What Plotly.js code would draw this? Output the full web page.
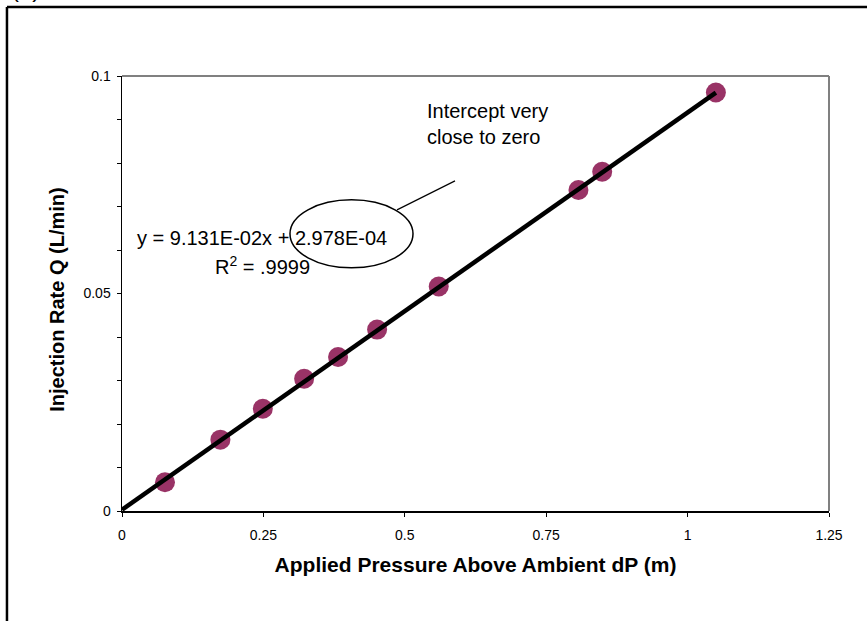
<!DOCTYPE html>
<html>
<head>
<meta charset="utf-8">
<script src="https://cdn.plot.ly/plotly-3.0.1.min.js"></script>
<style>
  html, body { margin: 0; padding: 0; background: #fff; }
  #chart { width: 867px; height: 621px; }
</style>
</head>
<body>
<div id="chart"></div>
<script>
// Measured data: applied pressure dP (m) vs injection rate Q (L/min)
const pressure = [0.076, 0.174, 0.249, 0.322, 0.382, 0.451, 0.560, 0.807, 0.849, 1.050];
const injectionRate = [0.0066, 0.0164, 0.0235, 0.0304, 0.0354, 0.0417, 0.0516, 0.0738, 0.0780, 0.0962];

// Linear trendline coefficients (from the chart's equation)
const slope = 9.131E-02;
const intercept = 2.978E-04;

// Tick labels
const xTickVals = [0, 0.25, 0.5, 0.75, 1, 1.25];
const xTickText = ['0', '0.25', '0.5', '0.75', '1', '1.25'];
const yTickVals = [0, 0.01, 0.02, 0.03, 0.04, 0.05, 0.06, 0.07, 0.08, 0.09, 0.1];
const yTickText = ['0', '', '', '', '', '0.05', '', '', '', '', '0.1'];

const trendX = [0, Math.max(...pressure)];
const trendY = trendX.map(x => slope * x + intercept);

const FONT = 'Liberation Sans, Arial, sans-serif';

const traces = [
  {
    x: pressure, y: injectionRate, type: 'scatter', mode: 'markers',
    marker: { color: '#993366', size: 20 },
    hoverinfo: 'x+y', showlegend: false
  },
  {
    x: trendX, y: trendY, type: 'scatter', mode: 'lines',
    line: { color: '#000000', width: 4.5 },
    hoverinfo: 'skip', showlegend: false
  }
];

const layout = {
  width: 867, height: 621,
  margin: { l: 122, r: 38, t: 76, b: 109.5, pad: 0 },
  paper_bgcolor: '#ffffff', plot_bgcolor: '#ffffff',
  font: { family: FONT, color: '#000000', size: 14 },
  showlegend: false,
  xaxis: {
    range: [0, 1.25], tickvals: xTickVals, ticktext: xTickText,
    ticks: 'outside', ticklen: 4, tickwidth: 1, tickcolor: '#000',
    ticklabelstandoff: 7,
    showline: true, linecolor: '#000', linewidth: 1.5,
    showgrid: false, zeroline: false,
    tickfont: { family: FONT, size: 14, color: '#000' },
    title: { text: '<b>Applied Pressure Above Ambient dP (m)</b>', font: { family: FONT, size: 21, color: '#000' }, standoff: 15 }
  },
  yaxis: {
    range: [0, 0.1], tickvals: yTickVals, ticktext: yTickText,
    ticks: 'outside', ticklen: 4, tickwidth: 1, tickcolor: '#000',
    ticklabelstandoff: 3,
    showline: true, linecolor: '#000', linewidth: 1.5,
    showgrid: false, zeroline: false,
    tickfont: { family: FONT, size: 14, color: '#000' },
    title: { text: '' }
  },
  xaxis2: {
    overlaying: 'x', anchor: 'y', range: [0, 1.25], tickvals: xTickVals,
    ticks: 'inside', ticklen: 3, tickwidth: 1, tickcolor: '#000',
    showticklabels: false, showline: false, showgrid: false, zeroline: false
  },
  yaxis2: {
    overlaying: 'y', anchor: 'x', range: [0, 0.1], tickvals: yTickVals,
    ticks: 'inside', ticklen: 3, tickwidth: 1, tickcolor: '#000',
    showticklabels: false, showline: false, showgrid: false, zeroline: false
  },
  shapes: [
    // plot-area border (top and right) in gray
    { type: 'line', xref: 'paper', yref: 'paper', x0: 0, x1: 1, y0: 1, y1: 1, line: { color: '#808080', width: 2 } },
    { type: 'line', xref: 'paper', yref: 'paper', x0: 1, x1: 1, y0: 0, y1: 1, line: { color: '#808080', width: 2 } },
    // outer chart frame (left and top edges visible)
    { type: 'line', xref: 'paper', yref: 'paper', x0: -0.1627, x1: -0.1627, y0: -0.26, y1: 1.1584, line: { color: '#000', width: 2.5 } },
    { type: 'line', xref: 'paper', yref: 'paper', x0: -0.1627, x1: 1.06, y0: 1.1584, y1: 1.1584, line: { color: '#000', width: 2.5 } },
    // ellipse around intercept
    { type: 'circle', xref: 'paper', yref: 'paper', x0: 0.2376, x1: 0.4116, y0: 0.5591, y1: 0.7153, line: { color: '#000', width: 1.5 } },
    // pointer line
    { type: 'line', xref: 'paper', yref: 'paper', x0: 0.3890, y0: 0.6923, x1: 0.4710, y1: 0.7589, line: { color: '#000', width: 1.2 } }
  ],
  annotations: [
    { xref: 'paper', yref: 'paper', x: -0.0919, y: 0.4856, xanchor: 'center', yanchor: 'middle', textangle: -90, showarrow: false,
      text: '<b>Injection Rate Q (L/min)</b>', font: { family: FONT, size: 20, color: '#000' } },
    { xref: 'paper', yref: 'paper', x: 0.019, y: 0.628, xanchor: 'left', yanchor: 'middle', showarrow: false,
      text: 'y = 9.131E-02x + 2.978E-04', font: { family: FONT, size: 20, color: '#000' } },
    { xref: 'paper', yref: 'paper', x: 0.1987, y: 0.5637, xanchor: 'center', yanchor: 'middle', showarrow: false,
      text: 'R<sup>2</sup> = .9999', font: { family: FONT, size: 20, color: '#000' } },
    { xref: 'paper', yref: 'paper', x: 0.429, y: 0.8886, xanchor: 'left', yanchor: 'middle', align: 'left', showarrow: false,
      text: 'Intercept very<br>close to zero', font: { family: FONT, size: 20, color: '#000' } },
    { xref: 'paper', yref: 'paper', x: -0.1358, y: 1.1653, xanchor: 'center', yanchor: 'bottom', showarrow: false,
      text: '(b)', font: { family: FONT, size: 24, color: '#000' } }
  ]
};

Plotly.newPlot('chart', traces, layout, { displayModeBar: false, staticPlot: true });
</script>
</body>
</html>
